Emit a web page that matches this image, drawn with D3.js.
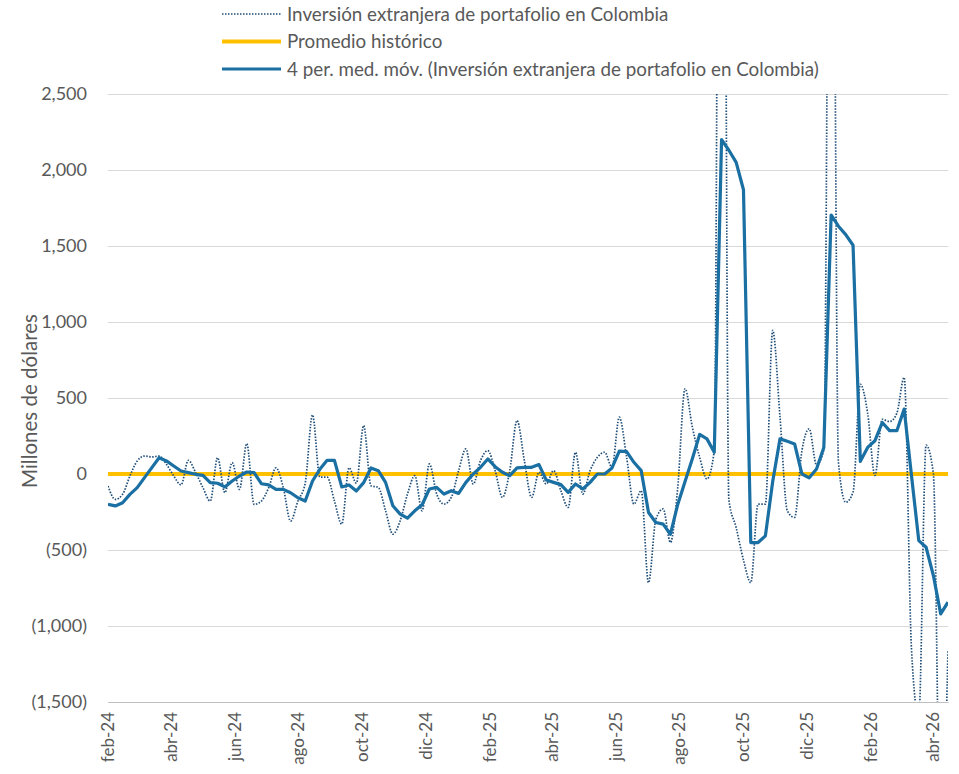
<!DOCTYPE html>
<html>
<head>
<meta charset="utf-8">
<script src="https://cdn.jsdelivr.net/npm/d3@7"></script>
<style>
  body { margin: 0; background: #ffffff; }
  text { font-family: Lato, "Liberation Sans", sans-serif; fill: #595959; }
</style>
</head>
<body>
<div id="wrapper"></div>
<script>
// weekly data, first week
const startDate = "2024-02-02";

// Inversión extranjera de portafolio en Colombia (USD millones, semanal)
const inversion = [
  -79, -167, -134, -13, 86, 118, 112, 118, 64, -13,
  -72, 90, 9, -90, -178, 107, -123, 75, -101, 200,
  -200, -178, -90, 41, -90, -310, -178, -60, 389, -20,
  -20, -178, -330, 41, -60, 319, -77, -88, -242, -396,
  -308, -132, -11, -242, 66, -132, -198, -154, 22, 165,
  -66, 88, 154, 22, -154, 22, 352, 88, -154, 11,
  -66, 22, -110, -220, 143, -132, 22, 110, 143, 44,
  374, 110, -198, -110, -715, -300, -230, -450, -88, 561,
  308, 110, -33, 154, 8570, -170, -353, -566, -715, -198,
  -198, 945, 375, -242, -286, 153, 297, 60, 160, 6250,
  77, -186, -120, 590, 400, -10, 360, 345, 400, 635,
  -1150, -1600, 190, 0, -2480, -1161
];

// 4 per. med. móv.
const mediaMovil = [
  -200, -210, -189, -134, -90, -24, 42, 107, 86, 53,
  20, 9, -2, -9, -57, -61, -85, -46, -13, 13,
  9, -64, -72, -101, -101, -123, -156, -178, -46, 31,
  90, 90, -85, -72, -112, -57, 40, 22, -55, -209,
  -264, -290, -242, -202, -99, -88, -132, -110, -128, -55,
  0, 44, 99, 48, 11, -11, 40, 44, 44, 62,
  -40, -55, -70, -121, -66, -99, -55, 0, 0, 40,
  150, 147, 77, 22, -253, -319, -330, -396, -200, -50,
  100, 260, 231, 143, 2200, 2130, 2050, 1870, -451, -451,
  -407, -50, 231, 215, 198, 0, -25, 33, 175, 1704,
  1630, 1575, 1505, 83, 175, 219, 339, 285, 285, 427,
  -10, -438, -482, -668, -920, -843
];

const promedioHistorico = 0;

const tickDates = [
  "2024-02-02", "2024-04-02", "2024-06-02", "2024-08-02", "2024-10-02", "2024-12-02", "2025-02-02",
  "2025-04-02", "2025-06-02", "2025-08-02", "2025-10-02", "2025-12-02", "2026-02-02", "2026-04-02"
];
const tickLabels = [
  "feb-24", "abr-24", "jun-24", "ago-24", "oct-24", "dic-24", "feb-25",
  "abr-25", "jun-25", "ago-25", "oct-25", "dic-25", "feb-26", "abr-26"
];
const yTicks = [-1500, -1000, -500, 0, 500, 1000, 1500, 2000, 2500];
const legendLabels = [
  "Inversión extranjera de portafolio en Colombia",
  "Promedio histórico",
  "4 per. med. móv. (Inversión extranjera de portafolio en Colombia)"
];

function drawChart() {
  const parseDate = d3.timeParse("%Y-%m-%d");
  const start = parseDate(startDate);
  const dates = inversion.map((d, i) => d3.timeDay.offset(start, 7 * i));

  const colors = {
    raw: "#1f4e79",
    avg: "#ffc000",
    ma: "#1a6fa3",
    grid: "#d9d9d9"
  };

  let dimensions = {
    width: 959,
    height: 774,
    margin: { top: 94, right: 11, bottom: 72, left: 108 }
  };
  dimensions.boundedWidth = dimensions.width - dimensions.margin.left - dimensions.margin.right;
  dimensions.boundedHeight = dimensions.height - dimensions.margin.top - dimensions.margin.bottom;

  const svg = d3.select("#wrapper").append("svg")
    .attr("width", dimensions.width)
    .attr("height", dimensions.height);

  const bounds = svg.append("g")
    .attr("transform", `translate(${dimensions.margin.left},${dimensions.margin.top})`);

  // scales
  const xScale = d3.scaleTime()
    .domain(d3.extent(dates))
    .range([0, dimensions.boundedWidth]);
  const yScale = d3.scaleLinear()
    .domain([-1500, 2500])
    .range([dimensions.boundedHeight, 0]);

  // y axis + gridlines
  const fmt = d3.format(",");
  const yAxis = bounds.append("g")
    .call(d3.axisLeft(yScale)
      .tickValues(yTicks)
      .tickSize(-dimensions.boundedWidth)
      .tickPadding(21)
      .tickFormat(d => d < 0 ? `(${fmt(-d)})` : fmt(d)));
  yAxis.select(".domain").remove();
  yAxis.selectAll("line").attr("stroke", colors.grid).attr("stroke-width", 1);
  yAxis.selectAll("text")
    .style("font-size", "18px")
    .attr("fill", "#595959");

  // x axis
  const xAxis = bounds.append("g")
    .attr("transform", `translate(0,${dimensions.boundedHeight})`)
    .call(d3.axisBottom(xScale)
      .tickValues(tickDates.map(parseDate))
      .tickSize(0)
      .tickFormat((d, i) => tickLabels[i]));
  xAxis.select(".domain").attr("stroke", "#bfbfbf");
  xAxis.selectAll("text")
    .attr("transform", "rotate(-90)")
    .attr("text-anchor", "end")
    .attr("x", -10)
    .attr("y", 0)
    .attr("dy", "0.35em")
    .style("font-size", "17px")
    .attr("fill", "#595959");

  // y title
  svg.append("text")
    .attr("transform", `translate(30,${dimensions.margin.top + yScale(480)}) rotate(-90)`)
    .attr("text-anchor", "middle")
    .attr("dy", "0.35em")
    .style("font-size", "20.5px")
    .text("Millones de dólares");

  // clip
  svg.append("clipPath").attr("id", "plot-clip")
    .append("rect")
    .attr("width", dimensions.boundedWidth)
    .attr("height", dimensions.boundedHeight);

  const plot = bounds.append("g").attr("clip-path", "url(#plot-clip)");

  // promedio histórico
  plot.append("path")
    .datum(dates)
    .attr("d", d3.line().x(d => xScale(d)).y(() => yScale(promedioHistorico)))
    .attr("fill", "none")
    .attr("stroke", colors.avg)
    .attr("stroke-width", 4);

  // raw series, smoothed dotted
  const rawLine = d3.line()
    .x((d, i) => xScale(dates[i]))
    .y(d => yScale(d))
    .curve(d3.curveMonotoneX);
  plot.append("path")
    .datum(inversion)
    .attr("d", rawLine)
    .attr("fill", "none")
    .attr("stroke", colors.raw)
    .attr("stroke-width", 1.7)
    .attr("stroke-dasharray", "1.5,1.5");

  // moving average
  const maLine = d3.line()
    .x((d, i) => xScale(dates[i]))
    .y(d => yScale(d));
  plot.append("path")
    .datum(mediaMovil)
    .attr("d", maLine)
    .attr("fill", "none")
    .attr("stroke", colors.ma)
    .attr("stroke-width", 3.2)
    .attr("stroke-linejoin", "round");

  // legend
  const legendStyles = [
    { stroke: colors.raw, width: 1.7, dash: "1.5,1.5" },
    { stroke: colors.avg, width: 4, dash: null },
    { stroke: colors.ma, width: 3.2, dash: null }
  ];
  const legend = svg.append("g").attr("transform", "translate(222,14)");
  const items = legend.selectAll("g")
    .data(legendLabels)
    .join("g")
    .attr("transform", (d, i) => `translate(0,${i * 27.5})`);
  items.append("line")
    .attr("x1", 0).attr("x2", 59)
    .attr("y1", 0).attr("y2", 0)
    .attr("stroke", (d, i) => legendStyles[i].stroke)
    .attr("stroke-width", (d, i) => legendStyles[i].width)
    .attr("stroke-dasharray", (d, i) => legendStyles[i].dash);
  items.append("text")
    .attr("x", 65)
    .attr("dy", "0.35em")
    .style("font-size", "18.8px")
    .text(d => d);
}

drawChart();
</script>
</body>
</html>
